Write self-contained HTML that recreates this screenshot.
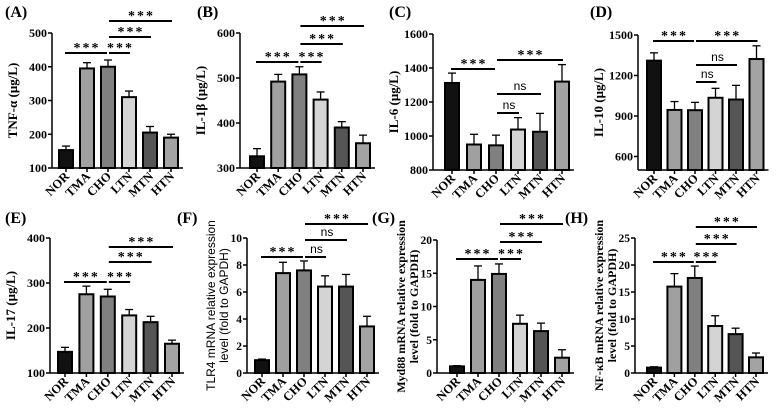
<!DOCTYPE html>
<html><head><meta charset="utf-8"><style>
html,body{margin:0;padding:0;background:#fff;}
svg{display:block;}
text{font-family:"Liberation Serif",serif;font-weight:bold;fill:#000;}
</style></head><body>
<svg id="fig" width="778" height="412" viewBox="0 0 778 412" xmlns="http://www.w3.org/2000/svg"></svg>
<script>
const categories = ["NOR","TMA","CHO","LTN","MTN","HTN"];
const valuesA = [153,395,400,310,205,190];
const errorsA = [12,17,20,18,18,10];
const valuesB = [326,492,508,452,390,355];
const errorsB = [17,16,17,17,13,18];
const valuesC = [1312,950,945,1038,1025,1320];
const errorsC = [58,60,60,70,108,100];
const valuesD = [1310,945,943,1035,1022,1322];
const errorsD = [58,62,58,70,105,98];
const valuesE = [147,275,270,228,213,165];
const errorsE = [10,18,16,13,13,8];
const valuesF = [0.95,7.4,7.6,6.4,6.4,3.45];
const errorsF = [0.08,0.8,0.7,0.8,0.9,0.75];
const valuesG = [1.0,14,14.9,7.4,6.3,2.3];
const errorsG = [0.1,2.1,1.5,1.3,1.2,1.2];
const valuesH = [1.0,16,17.6,8.7,7.2,2.9];
const errorsH = [0.15,2.4,2.2,1.9,1.1,0.8];
const ticksA = [100,200,300,400,500];
const ticksB = [300,400,500,600];
const ticksC = [800,1000,1200,1400,1600];
const ticksD = [600,900,1200,1500];
const ticksE = [100,200,300,400];
const ticksF = [0,2,4,6,8,10];
const ticksG = [0,5,10,15,20];
const ticksH = [0,5,10,15,20,25];
const colors = ["#111111","#a0a0a0","#808080","#d4d4d4","#555555","#a3a3a3"];

const panels = [
 {id:"a",letter:"(A)",lx:5,ly:17,ax:52,yTop:33,yBot:168,min:100,max:500,ticks:ticksA,vals:valuesA,errs:errorsA,off:14,sp:21,
  ylab:["TNF-α (μg/L)"],sans:false,br:[[0,2,53,"***"],[2,3,53,"***"],[2,4,37,"***"],[2,5,21,"***"]]},
 {id:"b",letter:"(B)",lx:197,ly:17,ax:240,yTop:33,yBot:168,min:300,max:600,ticks:ticksB,vals:valuesB,errs:errorsB,off:17,sp:21.2,
  ylab:["IL-1β (μg/L)"],sans:false,br:[[0,2,62,"***"],[2,3,62,"***"],[2,4,44,"***"],[2,5,26,"***"]]},
 {id:"c",letter:"(C)",lx:389,ly:17,ax:433,yTop:34,yBot:170,min:800,max:1600,ticks:ticksC,vals:valuesC,errs:errorsC,off:19,sp:22,
  ylab:["IL-6  (μg/L)"],sans:false,br:[[0,2,69,"***"],[2,5,60,"***"],[2,4,94,"ns"],[2,3,113,"ns"]]},
 {id:"d",letter:"(D)",lx:590,ly:17,ax:638,yTop:35,yBot:170,min:500,max:1500,ticks:ticksD,vals:valuesD,errs:errorsD,off:16,sp:20.5,
  ylab:["IL-10 (μg/L)"],sans:false,br:[[0,2,41,"***"],[2,5,41,"***"],[2,4,65,"ns"],[2,3,82,"ns"]]},
 {id:"e",letter:"(E)",lx:5,ly:223,ax:50,yTop:238,yBot:373,min:100,max:400,ticks:ticksE,vals:valuesE,errs:errorsE,off:15,sp:21.4,
  ylab:["IL-17 (μg/L)"],sans:false,br:[[0,2,282,"***"],[2,3,282,"***"],[2,4,262,"***"],[2,5,247,"***"]]},
 {id:"f",letter:"(F)",lx:177,ly:223,ax:247,yTop:238,yBot:373,min:0,max:10,ticks:ticksF,vals:valuesF,errs:errorsF,off:15,sp:21,
  ylab:["TLR4 mRNA relative expression","level (fold to GAPDH)"],sans:true,br:[[0,2,257,"***"],[2,3,257,"ns"],[2,4,240,"ns"],[2,5,224,"***"]]},
 {id:"g",letter:"(G)",lx:372,ly:223,ax:437,yTop:240,yBot:373,min:0,max:20,ticks:ticksG,vals:valuesG,errs:errorsG,off:20,sp:21,
  ylab:["Myd88 mRNA relative expression","level (fold to GAPDH)"],sans:false,br:[[0,2,259,"***"],[2,3,259,"***"],[2,4,242,"***"],[2,5,224,"***"]]},
 {id:"h",letter:"(H)",lx:565,ly:223,ax:635,yTop:238,yBot:373,min:0,max:25,ticks:ticksH,vals:valuesH,errs:errorsH,off:19,sp:20.4,
  ylab:["NF-κB mRNA relative expression","level (fold to GAPDH)"],sans:false,br:[[0,2,262,"***"],[2,3,262,"***"],[2,4,244,"***"],[2,5,227,"***"]]}
];

const NS="http://www.w3.org/2000/svg";
const svg=document.getElementById("fig");
function mk(tag,attrs,parent){const e=document.createElementNS(NS,tag);for(const k in attrs)e.setAttribute(k,attrs[k]);(parent||svg).appendChild(e);return e;}

panels.forEach(p=>{
  const g=mk("g",{});
  
  
  const yS=v=>p.yBot-(v-p.min)/(p.max-p.min)*(p.yBot-p.yTop);
  const xS=i=>p.ax+p.off+i*p.sp;
  const lt=mk("text",{x:p.lx,y:p.ly,"font-size":"16"},g);lt.textContent=p.letter;
  
  
  p.vals.forEach((v,i)=>{
    const x=xS(i),top=yS(v),er=yS(v+p.errs[i]);
    const eb=mk("line",{x1:x,x2:x,y1:top,y2:er,stroke:"#000","stroke-width":1.3},g);
    
    
    mk("line",{x1:x-4,x2:x+4,y1:er,y2:er,stroke:"#000","stroke-width":1.3},g);
    const r=mk("rect",{x:x-7,y:top,width:14,height:Math.max(0,p.yBot-top),fill:colors[i],stroke:"#000","stroke-width":2},g);
    
    
  });
  const right=xS(5)+12;
  const ya=mk("line",{x1:p.ax,x2:p.ax,y1:p.yTop,y2:p.yBot,stroke:"#000","stroke-width":1.5},g);
  
  
  const xa=mk("line",{x1:p.ax,x2:right,y1:p.yBot,y2:p.yBot,stroke:"#000","stroke-width":1.5},g);
  
  
  const two=p.ylab.length>1;
  p.ticks.forEach(t=>{
    const y=yS(t);
    mk("line",{x1:p.ax-4,x2:p.ax,y1:y,y2:y,stroke:"#000","stroke-width":1.5},g);
    const tx=mk("text",{x:p.ax-5,y:y+4,"font-size":two?"11.5":"12","text-anchor":"end"},g);
    tx.textContent=t;
    
    
  });
  categories.forEach((c,i)=>{
    const x=xS(i);
    mk("line",{x1:x,x2:x,y1:p.yBot,y2:p.yBot+4,stroke:"#000","stroke-width":1.5},g);
    const tx=mk("text",{x:x+4,y:p.yBot+9,"font-size":"12.5","text-anchor":"end",transform:`rotate(-45 ${x+4} ${p.yBot+9})`},g);
    tx.textContent=c;
    
    
  });
  const cy=(p.yTop+p.yBot)/2;
  p.ylab.forEach((s,k)=>{
    const lx=two?p.ax-32+k*13:p.ax-35;
    const tx=mk("text",{x:lx,y:cy,"font-size":two?"12":"13","text-anchor":"middle",transform:`rotate(-90 ${lx} ${cy})`},g);
    if(p.sans){tx.setAttribute("style","font-family:'Liberation Sans',sans-serif;font-weight:normal");}
    tx.textContent=s;
    
    
  });
  p.br.forEach(b=>{
    const x1=xS(b[0])+(b[0]===2?1:-1),x2=xS(b[1])+(b[1]===2?-1:1);
    const ln=mk("line",{x1:x1,x2:x2,y1:b[2],y2:b[2],stroke:"#000","stroke-width":2},g);
    
    
    const st=b[3]==="***";
    const tx=mk("text",{x:(x1+x2)/2+1,y:st?b[2]-1:b[2]-4,"font-size":st?"14":"12","text-anchor":"middle"},g);
    if(st)tx.setAttribute("letter-spacing","2");
    else tx.setAttribute("style","font-family:'Liberation Sans',sans-serif;font-weight:normal");
    tx.textContent=b[3];
    
    
  });
});
</script>
</body></html>
